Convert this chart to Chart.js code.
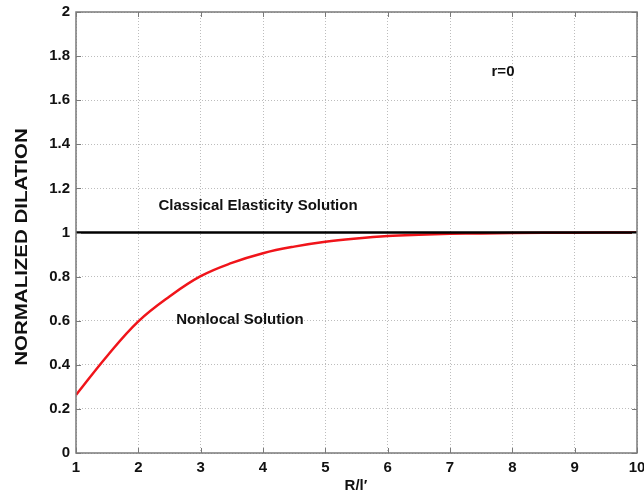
<!DOCTYPE html>
<html>
<head>
<meta charset="utf-8">
<script src="https://cdn.jsdelivr.net/npm/chart.js@4"></script>
<style>
  html, body { margin: 0; padding: 0; background: #fff; }
  #wrap { width: 644px; height: 495px; }
</style>
</head>
<body>
<div id="wrap"><canvas id="chart" width="644" height="495"></canvas></div>
<script>
// Data
const rValues = [1, 1.5, 2, 2.5, 3, 3.5, 4, 4.5, 5, 5.5, 6, 6.5, 7, 7.5, 8, 9, 10];
const nonlocal = [0.263, 0.44, 0.597, 0.71, 0.802, 0.862, 0.906, 0.936, 0.958, 0.973, 0.984, 0.99, 0.994, 0.996, 0.998, 0.999, 1.0];
const classicalX = [1, 10];
const classical = [1, 1];
const xTicks = [1, 2, 3, 4, 5, 6, 7, 8, 9, 10];
const yTicks = [0, 0.2, 0.4, 0.6, 0.8, 1, 1.2, 1.4, 1.6, 1.8, 2];

const FONT = "'Liberation Sans', Arial, sans-serif";

// box, inward ticks, labels
const decor = {
  id: "decor",
  afterDraw(chart) {
    const { ctx, chartArea: a, scales } = chart;
    ctx.save();
    ctx.strokeStyle = "#7a7a7a";
    ctx.lineWidth = 1.5;
    ctx.strokeRect(a.left, a.top, a.right - a.left, a.bottom - a.top);

    ctx.lineWidth = 1;
    ctx.beginPath();
    xTicks.forEach((v) => {
      const px = Math.round(scales.x.getPixelForValue(v)) + 0.5;
      ctx.moveTo(px, a.bottom); ctx.lineTo(px, a.bottom - 5);
      ctx.moveTo(px, a.top); ctx.lineTo(px, a.top + 5);
    });
    yTicks.forEach((v) => {
      const py = Math.round(scales.y.getPixelForValue(v)) + 0.5;
      ctx.moveTo(a.left, py); ctx.lineTo(a.left + 5, py);
      ctx.moveTo(a.right, py); ctx.lineTo(a.right - 5, py);
    });
    ctx.stroke();

    ctx.fillStyle = "#111";
    ctx.font = "bold 15px " + FONT;
    ctx.textAlign = "center";
    ctx.textBaseline = "alphabetic";
    ctx.fillText("Classical Elasticity Solution", 258, 210);
    ctx.fillText("Nonlocal Solution", 240, 324);
    ctx.fillText("r=0", 503, 76);
    ctx.fillText("R/l\u2032", 356, 490);

    // y title, stretched along the text like the original
    ctx.translate(27, 247);
    ctx.rotate(-Math.PI / 2);
    ctx.scale(1.28, 1);
    ctx.font = "bold 16px " + FONT;
    ctx.fillText("NORMALIZED DILATION", 0, 0);
    ctx.restore();
  }
};

const toPoints = (xs, ys) => xs.map((x, i) => ({ x: x, y: ys[i] }));

new Chart(document.getElementById("chart"), {
  type: "line",
  data: {
    datasets: [
      {
        label: "Classical Elasticity Solution",
        data: toPoints(classicalX, classical),
        borderColor: "#000",
        borderWidth: 2.5,
        pointRadius: 0
      },
      {
        label: "Nonlocal Solution",
        data: toPoints(rValues, nonlocal),
        borderColor: "#f0141a",
        borderWidth: 2.5,
        pointRadius: 0,
        tension: 0.4
      }
    ]
  },
  options: {
    responsive: false,
    animation: false,
    events: [],
    layout: { padding: { top: 12, right: 7, left: 0, bottom: 0 } },
    plugins: { legend: { display: false }, tooltip: { enabled: false } },
    scales: {
      x: {
        type: "linear",
        min: 1,
        max: 10,
        afterBuildTicks: (s) => { s.ticks = xTicks.map((v) => ({ value: v })); },
        afterFit: (s) => { s.height = 42; s.paddingRight = 0; s.paddingLeft = 0; },
        grid: { color: "#bdbdbd", lineWidth: 1, drawTicks: false },
        border: { display: false, dash: [1, 2] },
        ticks: {
          color: "#111",
          padding: 6,
          maxRotation: 0,
          font: { family: FONT, size: 15, weight: "bold" }
        }
      },
      y: {
        type: "linear",
        min: 0,
        max: 2,
        afterBuildTicks: (s) => { s.ticks = yTicks.map((v) => ({ value: v })); },
        afterFit: (s) => { s.width = 76; s.paddingTop = 0; s.paddingBottom = 0; },
        grid: { color: "#bdbdbd", lineWidth: 1, drawTicks: false },
        border: { display: false, dash: [1, 2] },
        ticks: {
          color: "#111",
          padding: 6,
          callback: (v) => String(Math.round(v * 10) / 10),
          font: { family: FONT, size: 15, weight: "bold" }
        }
      }
    }
  },
  plugins: [decor]
});
</script>
</body>
</html>
